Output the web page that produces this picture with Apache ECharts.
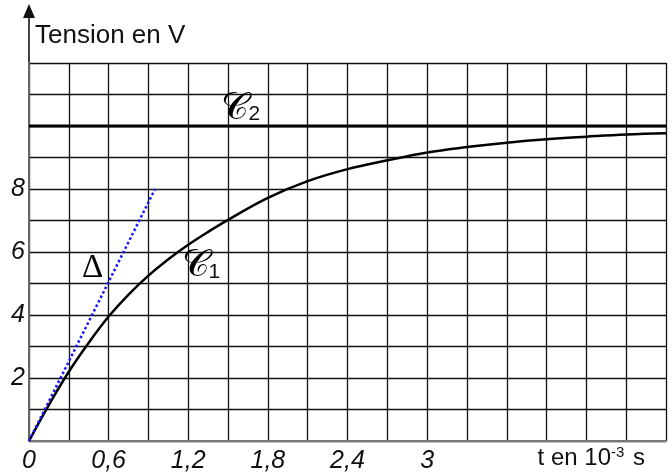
<!DOCTYPE html>
<html>
<head>
<meta charset="utf-8">
<script src="https://cdn.jsdelivr.net/npm/echarts@6/dist/echarts.min.js"></script>
<style>
  html, body { margin: 0; padding: 0; background: #fff; }
  #chart { width: 672px; height: 475px; }
</style>
</head>
<body>
<div id="chart"></div>
<script>
// time in 10^-3 s, voltage in V
const times = [0, 0.15, 0.3, 0.45, 0.6, 0.75, 0.9, 1.05, 1.2, 1.35, 1.5, 1.8, 2.1, 2.4, 2.7, 3.0, 3.3, 3.6, 3.9, 4.2, 4.5, 4.8];
const tension = [0, 1.15, 2.2, 3.12, 3.95, 4.65, 5.25, 5.77, 6.23, 6.64, 7.02, 7.72, 8.25, 8.63, 8.91, 9.16, 9.33, 9.47, 9.58, 9.66, 9.73, 9.77];
const asymptoteT = [0, 4.8];
const asymptoteV = [10, 10];
const tangentT = [0, 0.95];
const tangentV = [0, 8];

const xTickValues = [0, 0.6, 1.2, 1.8, 2.4, 3];
const xTickLabels = ['0', '0,6', '1,2', '1,8', '2,4', '3'];
const yTickValues = [2, 4, 6, 8];

// annotations: glyph, subscript, anchor (left edge / vertical middle, data coordinates)
const noteGlyphs = ['𝒞', '𝒞', 'Δ'];
const noteSubs = ['2', '1', ''];
const notePoints = [[1.45, 10.55], [1.15, 5.54], [0.4, 5.47]];

const font = '"Liberation Sans", Arial, sans-serif';
const chart = echarts.init(document.getElementById('chart'));

const option = {
  animation: false,
  backgroundColor: '#fff',
  grid: { left: 29, right: 6, top: 63, bottom: 34 },
  xAxis: {
    type: 'value',
    min: 0,
    max: 4.8,
    interval: 0.3,
    name: 't en 10{sup|-3} s',
    nameLocation: 'end',
    nameGap: -21,
    nameTextStyle: {
      align: 'right',
      verticalAlign: 'top',
      padding: [4, 0, 0, 0],
      fontFamily: font,
      fontSize: 24,
      color: '#111',
      rich: {
        sup: { fontSize: 15, fontFamily: font, color: '#111', padding: [0, 2, 12, 0] }
      }
    },
    axisLine: { show: true, lineStyle: { color: '#777', width: 2 } },
    axisTick: { show: false },
    axisLabel: {
      margin: 8,
      fontFamily: font,
      fontStyle: 'italic',
      fontSize: 25,
      color: '#111',
      formatter: v => {
        const i = xTickValues.findIndex(a => Math.abs(a - v) < 1e-6);
        return i >= 0 ? xTickLabels[i] : '';
      }
    },
    splitLine: { show: true, lineStyle: { color: '#111', width: 1.3 } }
  },
  yAxis: {
    type: 'value',
    min: 0,
    max: 12,
    interval: 1,
    axisLine: { show: true, lineStyle: { color: '#666', width: 2 } },
    axisTick: { show: false },
    axisLabel: {
      margin: 4,
      fontFamily: font,
      fontStyle: 'italic',
      fontSize: 25,
      color: '#111',
      formatter: v => (yTickValues.includes(v) ? String(v) : '')
    },
    splitLine: { show: true, lineStyle: { color: '#111', width: 1.3 } }
  },
  series: [
    {
      name: 'C1',
      type: 'line',
      showSymbol: false,
      smooth: 0.4,
      data: times.map((t, i) => [t, tension[i]]),
      lineStyle: { color: '#000', width: 2.5 },
      z: 5
    },
    {
      name: 'C2',
      type: 'line',
      showSymbol: false,
      data: asymptoteT.map((t, i) => [t, asymptoteV[i]]),
      lineStyle: { color: '#000', width: 2.8 },
      z: 5
    },
    {
      name: 'Delta',
      type: 'line',
      showSymbol: false,
      data: tangentT.map((t, i) => [t, tangentV[i]]),
      lineStyle: { color: '#1515ff', width: 2.5, type: [2.5, 2.5] },
      z: 6
    }
  ]
};

chart.setOption(option);

// vertical axis extended with an arrow above the grid
const axisTop = chart.convertToPixel({ gridIndex: 0 }, [0, 12]);
const graphics = [
  {
    type: 'line',
    shape: { x1: axisTop[0], y1: axisTop[1], x2: axisTop[0], y2: 16 },
    style: { stroke: '#444', lineWidth: 2 }
  },
  {
    type: 'polygon',
    shape: { points: [[axisTop[0], 4], [axisTop[0] - 6, 18], [axisTop[0] + 6, 18]] },
    style: { fill: '#111' }
  },
  {
    type: 'text',
    left: 35,
    top: 23,
    style: { text: 'Tension en V', font: '26px ' + font, fill: '#111' }
  }
];

notePoints.forEach((p, i) => {
  const px = chart.convertToPixel({ gridIndex: 0 }, p);
  const isDelta = noteGlyphs[i] === 'Δ';
  graphics.push({
    type: 'text',
    x: px[0],
    y: px[1],
    z: 10,
    style: {
      text: noteGlyphs[i],
      font: isDelta ? '33px "Liberation Serif", serif' : '38px "DejaVu Serif", "Liberation Serif", serif',
      fill: '#000',
      align: 'left',
      verticalAlign: 'middle'
    }
  });
  if (noteSubs[i]) {
    graphics.push({
      type: 'text',
      x: px[0] + 27,
      y: px[1] + 6,
      z: 10,
      style: {
        text: noteSubs[i],
        font: '21px ' + font,
        fill: '#111',
        align: 'left',
        verticalAlign: 'middle'
      }
    });
  }
});

chart.setOption({ graphic: graphics });
</script>
</body>
</html>
